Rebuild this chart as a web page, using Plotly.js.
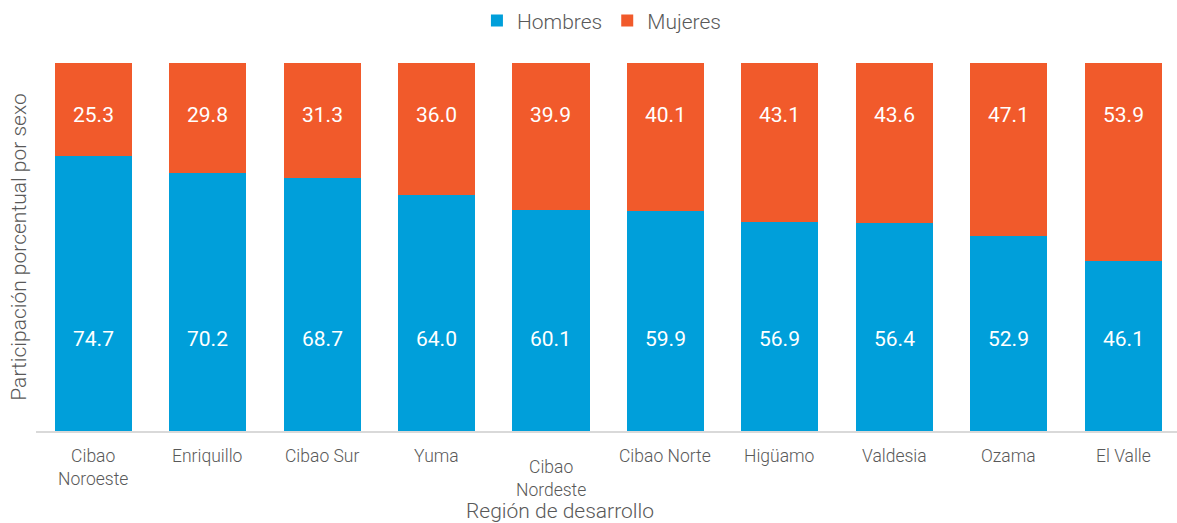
<!DOCTYPE html>
<html>
<head>
<meta charset="utf-8">
<script src="https://cdn.plot.ly/plotly-3.0.1.min.js"></script>
<style>html,body{margin:0;padding:0;background:#fff;}#chart{width:1177px;height:523px;}</style>
</head>
<body>
<div id="chart"></div>
<script>
var categories = ["Cibao Noroeste", "Enriquillo", "Cibao Sur", "Yuma", "Cibao Nordeste", "Cibao Norte", "Higüamo", "Valdesia", "Ozama", "El Valle"];
var tickLabels = ["Cibao<br>Noroeste", "Enriquillo", "Cibao Sur", "Yuma", "Cibao<br>Nordeste", "Cibao Norte", "Higüamo", "Valdesia", "Ozama", "El Valle"];
var hombres = [74.7, 70.2, 68.7, 64.0, 60.1, 59.9, 56.9, 56.4, 52.9, 46.1];
var mujeres = [25.3, 29.8, 31.3, 36.0, 39.9, 40.1, 43.1, 43.6, 47.1, 53.9];
var seriesNames = ["Hombres", "Mujeres"];
var xTitle = "Región de desarrollo";
var yTitle = "Participación porcentual por sexo";

var BLUE = "#009FDA", ORANGE = "#F15A2B", GRAY = "#595959";
var FONT = "Roboto, 'Noto Sans', sans-serif";

var traces = [
  {type: "bar", name: seriesNames[0], x: categories, y: hombres, marker: {color: BLUE}, hoverinfo: "skip"},
  {type: "bar", name: seriesNames[1], x: categories, y: mujeres, marker: {color: ORANGE}, hoverinfo: "skip"}
];

var annotations = [];
categories.forEach(function (c, i) {
  annotations.push({x: c, y: 25.0, xref: "x", yref: "y", text: hombres[i].toFixed(1), showarrow: false,
    yanchor: "middle", font: {family: FONT, size: 21, color: "#ffffff"}});
  annotations.push({x: c, y: 86.0, xref: "x", yref: "y", text: mujeres[i].toFixed(1), showarrow: false,
    yanchor: "middle", font: {family: FONT, size: 21, color: "#ffffff"}});
  annotations.push({x: c, y: -0.034, xref: "x", yref: "paper", text: tickLabels[i], showarrow: false,
    yanchor: "top", yshift: (c === "Cibao Nordeste" ? -11 : 0),
    font: {family: FONT, size: 17.5, color: GRAY, weight: 300}});
});
annotations.push({x: 0.459, y: -0.178, xref: "paper", yref: "paper", text: xTitle, showarrow: false,
  xanchor: "center", yanchor: "top", font: {family: FONT, size: 21, color: GRAY, weight: 300}});

var layout = {
  width: 1177, height: 523,
  margin: {l: 36, r: 0, t: 63, b: 92},
  paper_bgcolor: "#ffffff", plot_bgcolor: "#ffffff",
  barmode: "stack", bargap: 0.327,
  font: {family: FONT, color: GRAY},
  showlegend: true,
  legend: {orientation: "h", x: 0.496, xanchor: "center", y: 1.17, yanchor: "top",
    font: {family: FONT, size: 21, color: GRAY, weight: 300}, itemwidth: 30, traceorder: "normal"},
  xaxis: {type: "category", range: [-0.5, 9.47], showticklabels: false, ticks: "",
    showline: true, linecolor: "#d9d9d9", linewidth: 2, showgrid: false, zeroline: false, fixedrange: true},
  yaxis: {range: [0, 100], showticklabels: false, ticks: "", showline: false, showgrid: false, zeroline: false,
    title: {text: yTitle, standoff: 2, font: {family: FONT, size: 21, color: GRAY, weight: 300}}, fixedrange: true},
  annotations: annotations
};

Plotly.newPlot("chart", traces, layout, {displayModeBar: false, staticPlot: true});
</script>
</body>
</html>
